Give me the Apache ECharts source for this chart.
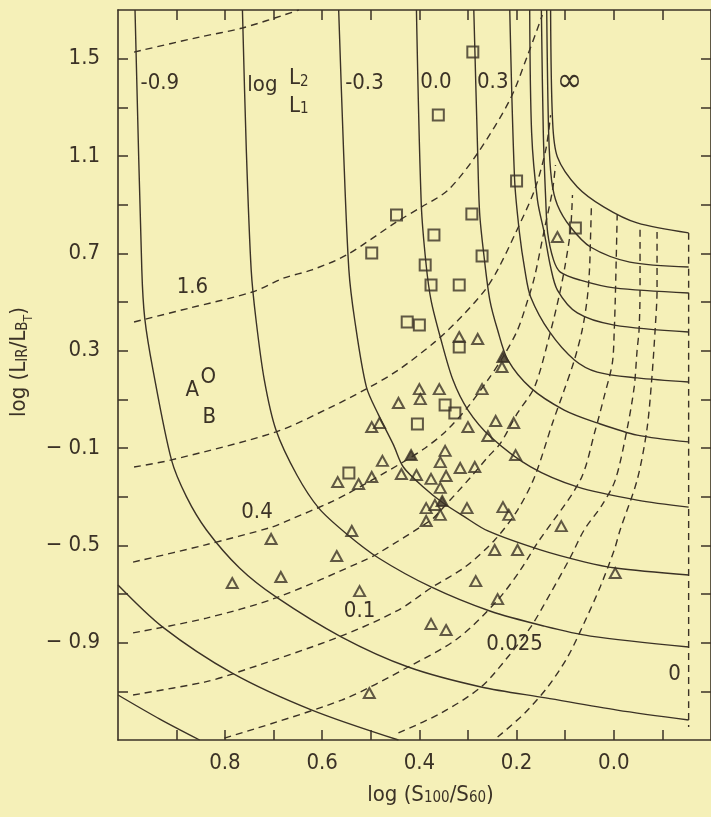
<!DOCTYPE html>
<html><head><meta charset="utf-8">
<script src="https://cdn.jsdelivr.net/npm/echarts@6/dist/echarts.min.js"></script>
<style>html,body{margin:0;padding:0;background:#f5f0b8;}#c{width:711px;height:817px;}</style>
</head><body><div id="c"></div>
<script>
// ---- axis ticks / labels ----
const xTickValues = [-0.1,0.0,0.1,0.2,0.3,0.4,0.5,0.6,0.7,0.8,0.9];
const xLabelValues = [0.8,0.6,0.4,0.2,0.0];
const xLabelTexts = ['0.8','0.6','0.4','0.2','0.0'];
const yTickValues = [-1.1,-0.9,-0.7,-0.5,-0.3,-0.1,0.1,0.3,0.5,0.7,0.9,1.1,1.3,1.5];
const yLabelValues = [1.5,1.1,0.7,0.3,-0.1,-0.5,-0.9];
const yLabelTexts = ['1.5','1.1','0.7','0.3','\u2212 0.1','\u2212 0.5','\u2212 0.9'];

// ---- observed galaxies ----
const squares = [[0.290,1.527],[0.361,1.268],[0.200,0.997],[0.447,0.858],[0.292,0.862],[0.370,0.775],
  [0.498,0.701],[0.271,0.689],[0.388,0.652],[0.376,0.570],[0.318,0.570],[0.079,0.804],[0.425,0.418],
  [0.400,0.405],[0.318,0.315],[0.347,0.077],[0.327,0.044],[0.404,-0.001],[0.545,-0.203]];
const triangles = [[0.116,0.767],[0.318,0.356],[0.280,0.348],[0.230,0.233],[0.271,0.142],[0.400,0.142],
  [0.359,0.142],[0.398,0.101],[0.443,0.085],[0.498,-0.014],[0.482,0.003],[0.300,-0.014],[0.243,0.011],
  [0.206,0.003],[0.259,-0.051],[0.202,-0.129],[0.347,-0.112],[0.357,-0.158],[0.476,-0.153],[0.437,-0.207],
  [0.406,-0.211],[0.376,-0.227],[0.345,-0.215],[0.316,-0.182],[0.286,-0.178],[0.357,-0.264],[0.368,-0.334],
  [0.386,-0.347],[0.357,-0.375],[0.386,-0.400],[0.302,-0.347],[0.228,-0.343],[0.216,-0.375],[0.108,-0.421],
  [0.498,-0.219],[0.525,-0.248],[0.568,-0.240],[0.539,-0.441],[0.570,-0.544],[0.705,-0.474],[0.685,-0.630],
  [0.785,-0.655],[0.523,-0.688],[0.376,-0.823],[0.345,-0.848],[0.503,-1.107],[0.245,-0.519],[0.198,-0.519],
  [0.284,-0.647],[0.239,-0.721],[-0.003,-0.614]];
const filledTriangles = [[0.228,0.274],[0.417,-0.129],[0.353,-0.318]];

// ---- model curves: constant log(L2/L1) (solid) ----
const solidM15 = [[1.020,-1.115],[0.934,-1.214],[0.852,-1.300]];
const solidM12 = [[1.020,-0.663],[0.928,-0.836],[0.785,-1.025],[0.621,-1.177],[0.443,-1.300]];
const solidM09 = [[0.985,1.70],[0.971,0.632],[0.965,0.434],[0.948,0.221],[0.910,-0.149],[0.879,-0.301],
  [0.838,-0.437],[0.770,-0.593],[0.695,-0.712],[0.560,-0.877],[0.423,-1.000],[0.273,-1.082],[0.140,-1.127],
  [-0.007,-1.177],[-0.154,-1.218]];
const solidM06 = [[0.764,1.70],[0.756,1.125],[0.746,0.632],[0.736,0.426],[0.719,0.180],[0.695,-0.026],
  [0.652,-0.211],[0.607,-0.347],[0.552,-0.449],[0.484,-0.552],[0.376,-0.671],[0.255,-0.770],[0.143,-0.832],
  [0.048,-0.873],[-0.154,-0.918]];
const solidM03 = [[0.566,1.70],[0.556,1.125],[0.545,0.632],[0.533,0.426],[0.509,0.151],[0.484,0.036],
  [0.453,-0.088],[0.433,-0.178],[0.392,-0.260],[0.351,-0.326],[0.310,-0.379],[0.259,-0.441],[0.151,-0.519],
  [0.059,-0.569],[-0.003,-0.593],[-0.154,-0.622]];
const solid00 = [[0.406,1.70],[0.396,0.899],[0.386,0.652],[0.376,0.508],[0.357,0.356],[0.331,0.180],
  [0.300,0.056],[0.253,-0.055],[0.171,-0.178],[0.075,-0.260],[-0.048,-0.314],[-0.154,-0.343]];
const solid03 = [[0.288,1.70],[0.280,1.112],[0.276,0.866],[0.267,0.689],[0.255,0.508],[0.239,0.385],
  [0.218,0.262],[0.171,0.147],[0.102,0.056],[0.034,0.003],[-0.048,-0.047],[-0.154,-0.075]];
const solid06 = [[0.214,1.70],[0.204,1.001],[0.194,0.784],[0.183,0.632],[0.171,0.521],[0.132,0.377],
  [0.081,0.262],[0.034,0.212],[-0.048,0.188],[-0.154,0.171]];
const solid09 = [[0.173,1.70],[0.169,1.195],[0.157,0.919],[0.143,0.784],[0.130,0.644],[0.116,0.549],
  [0.075,0.455],[-0.001,0.405],[-0.154,0.377]];
const solid12 = [[0.149,1.70],[0.145,1.195],[0.140,0.919],[0.136,0.784],[0.124,0.673],[0.110,0.623],
  [0.069,0.590],[-0.001,0.558],[-0.154,0.537]];
const solid15 = [[0.138,1.70],[0.134,1.195],[0.128,1.001],[0.116,0.899],[0.089,0.808],[0.048,0.726],
  [-0.033,0.664],[-0.154,0.644]];
const solidInf = [[0.130,1.70],[0.126,1.248],[0.116,1.096],[0.075,0.973],[0.020,0.890],[-0.048,0.825],
  [-0.154,0.784]];

// ---- model curves: dashed family ----
const dash32 = [[0.987,1.527],[0.852,1.589],[0.764,1.626],[0.648,1.70]];
const dash16 = [[0.987,0.418],[0.873,0.475],[0.744,0.541],[0.678,0.599],[0.621,0.632],[0.550,0.693],
  [0.447,0.829],[0.396,0.890],[0.341,0.960],[0.280,1.112],[0.214,1.330],[0.177,1.515],[0.147,1.679]];
const dash08 = [[0.987,-0.178],[0.910,-0.149],[0.695,-0.034],[0.586,0.064],[0.505,0.147],[0.443,0.221],
  [0.368,0.336],[0.314,0.438],[0.265,0.549],[0.239,0.632],[0.202,0.784],[0.163,0.960],[0.140,1.125],[0.130,1.268]];
const dash04 = [[0.989,-0.569],[0.842,-0.499],[0.703,-0.425],[0.668,-0.396],[0.586,-0.326],[0.545,-0.285],
  [0.498,-0.232],[0.437,-0.162],[0.388,-0.100],[0.347,-0.034],[0.300,0.069],[0.259,0.180],[0.228,0.274],
  [0.198,0.385],[0.177,0.508],[0.163,0.603],[0.143,0.796],[0.126,0.960],[0.120,1.063]];
const dash02 = [[0.989,-0.860],[0.838,-0.799],[0.695,-0.716],[0.511,-0.560],[0.484,-0.532],[0.376,-0.396],
  [0.361,-0.367],[0.294,-0.219],[0.259,-0.137],[0.233,-0.080],[0.198,0.044],[0.163,0.151],[0.132,0.364],
  [0.112,0.529],[0.100,0.652],[0.089,0.796],[0.085,0.940]];
const dash01 = [[0.989,-1.115],[0.842,-1.062],[0.785,-1.029],[0.566,-0.877],[0.443,-0.766],[0.376,-0.675],
  [0.306,-0.589],[0.245,-0.478],[0.198,-0.355],[0.163,-0.219],[0.126,0.003],[0.102,0.138],[0.081,0.262],
  [0.065,0.385],[0.055,0.508],[0.050,0.632],[0.048,0.755],[0.046,0.899]];
const dash005 = [[0.801,-1.292],[0.560,-1.136],[0.423,-1.000],[0.320,-0.881],[0.239,-0.725],[0.192,-0.601],
  [0.157,-0.490],[0.069,-0.232],[0.038,-0.026],[0.020,0.110],[0.003,0.249],[-0.001,0.385],[-0.003,0.508],
  [-0.005,0.673],[-0.007,0.858]];
const dash0025 = [[0.443,-1.271],[0.355,-1.189],[0.273,-1.082],[0.218,-0.959],[0.171,-0.836],[0.130,-0.696],
  [0.089,-0.548],[0.061,-0.437],[0.024,-0.334],[-0.003,-0.232],[-0.027,-0.026],[-0.042,0.151],[-0.048,0.303],
  [-0.052,0.385],[-0.054,0.549],[-0.054,0.808]];
const dash00125 = [[0.239,-1.288],[0.183,-1.189],[0.136,-1.082],[0.095,-0.959],[0.061,-0.819],[0.028,-0.671],
  [-0.001,-0.519],[-0.013,-0.437],[-0.048,-0.232],[-0.068,-0.026],[-0.078,0.180],[-0.085,0.385],[-0.089,0.549],
  [-0.089,0.788]];
const dash0 = [[-0.154,0.784],[-0.154,-1.247]];

// ---- in-plot annotations: [text, x, y] ----
const curveLabels = [['-0.9',0.934,1.400],['log',0.723,1.392],['L2',0.648,1.420],['L1',0.648,1.306],
  ['-0.3',0.513,1.400],['0.0',0.366,1.404],['0.3',0.249,1.404],['\u221e',0.091,1.404],
  ['1.6',0.867,0.562],['0.4',0.734,-0.363],['0.1',0.523,-0.770],['0.025',0.204,-0.906],['0',-0.125,-1.029],
  ['A',0.867,0.138],['O',0.834,0.192],['B',0.832,0.027]];

const INK = '#3b3226';
const FONT = "'DejaVu Sans Condensed','Liberation Sans Narrow','DejaVu Sans',sans-serif";
const FS = 22;

const solidCurves = [solidM15,solidM12,solidM09,solidM06,solidM03,solid00,solid03,solid06,solid09,solid12,solid15,solidInf];
const dashedCurves = [dash32,dash16,dash08,dash04,dash02,dash01,dash005,dash0025,dash00125,dash0];

function pick(vals, texts, v){
  for (let i=0;i<vals.length;i++) if (Math.abs(vals[i]-v)<1e-6) return texts[i];
  return '';
}
const rich = {
  m:{fontFamily:FONT,fontSize:FS,color:INK,lineHeight:30},
  big:{fontFamily:FONT,fontSize:34,color:INK,lineHeight:34},
  s:{fontFamily:FONT,fontSize:15,color:INK,verticalAlign:'bottom',lineHeight:30},
  sb:{fontFamily:FONT,fontSize:15,color:INK,verticalAlign:'bottom',lineHeight:30,padding:[0,0,4,0]},
  t:{fontFamily:FONT,fontSize:12,color:INK,verticalAlign:'bottom',lineHeight:30}
};

const series = [];
solidCurves.forEach(d => series.push({type:'line',data:d,smooth:0.3,showSymbol:false,silent:true,
  lineStyle:{color:INK,width:1.4},z:2}));
dashedCurves.forEach(d => series.push({type:'line',data:d,smooth:0.3,showSymbol:false,silent:true,
  lineStyle:{color:INK,width:1.4,type:[7,5]},z:2}));
series.push({type:'scatter',data:squares,symbol:'rect',symbolSize:11,silent:true,z:4,
  itemStyle:{color:'rgba(0,0,0,0)',borderColor:INK,borderWidth:2}});
series.push({type:'scatter',data:triangles,symbol:'triangle',symbolSize:[11,10],silent:true,z:4,
  itemStyle:{color:'rgba(0,0,0,0)',borderColor:INK,borderWidth:2}});
series.push({type:'scatter',data:filledTriangles,symbol:'triangle',symbolSize:[11,10],silent:true,z:4,
  itemStyle:{color:INK,borderColor:INK,borderWidth:2}});
series.push({type:'scatter',silent:true,z:5,symbolSize:1,itemStyle:{color:INK,opacity:0},
  data:curveLabels.map(l => {
    let txt = l[0];
    const item = {value:[l[1],l[2]],name:txt,label:{}};
    if (txt==='L2') item.label.formatter='{m|L}{sb|2}';
    else if (txt==='L1') item.label.formatter='{m|L}{sb|1}';
    else if (txt==='\u221e') item.label.formatter='{big|\u221e}';
    else item.label.formatter='{m|'+txt+'}';
    return item;
  }),
  label:{show:true,position:'inside',color:INK,opacity:1,textBorderWidth:0,rich:rich}});

const axisLineCommon = {show:true,onZero:false,lineStyle:{color:INK,width:1.6}};
const chart = echarts.init(document.getElementById('c'));
chart.setOption({
  animation:false,
  backgroundColor:'#f5f0b8',
  grid:{left:118,top:10,width:594,height:730},
  xAxis:[{type:'value',inverse:true,min:-0.2,max:1.02,position:'bottom',
      axisLine:axisLineCommon,
      axisTick:{inside:true,length:10,customValues:xTickValues,lineStyle:{color:INK,width:1.5}},
      axisLabel:{customValues:xLabelValues,formatter:v=>pick(xLabelValues,xLabelTexts,v),
        fontFamily:FONT,fontSize:FS,color:INK,margin:12},
      splitLine:{show:false},
      name:'{m|log (S}{sb|100}{m|/S}{sb|60}{m|)}',nameLocation:'middle',nameGap:40,
      nameTextStyle:{rich:rich,padding:[0,0,0,32]}},
    {type:'value',inverse:true,min:-0.2,max:1.02,position:'top',
      axisLine:axisLineCommon,
      axisTick:{inside:true,length:10,customValues:xTickValues,lineStyle:{color:INK,width:1.5}},
      axisLabel:{show:false},splitLine:{show:false}}],
  yAxis:[{type:'value',min:-1.3,max:1.7,position:'left',
      axisLine:axisLineCommon,
      axisTick:{show:true,inside:true,length:10,customValues:yTickValues,lineStyle:{color:INK,width:1.5}},
      axisLabel:{customValues:yLabelValues,formatter:v=>pick(yLabelValues,yLabelTexts,v),
        fontFamily:FONT,fontSize:FS,color:INK,margin:18},
      splitLine:{show:false},
      name:'{m|log (L}{sb|IR}{m|/L}{sb|B}{t|T}{m|)}',nameLocation:'middle',nameRotate:90,nameGap:66,
      nameTextStyle:{rich:rich,padding:[0,0,0,26]}},
    {type:'value',min:-1.3,max:1.7,position:'right',
      axisLine:axisLineCommon,
      axisTick:{show:true,inside:true,length:10,customValues:yTickValues,lineStyle:{color:INK,width:1.5}},
      axisLabel:{show:false},splitLine:{show:false}}],
  series:series
});
</script></body></html>
